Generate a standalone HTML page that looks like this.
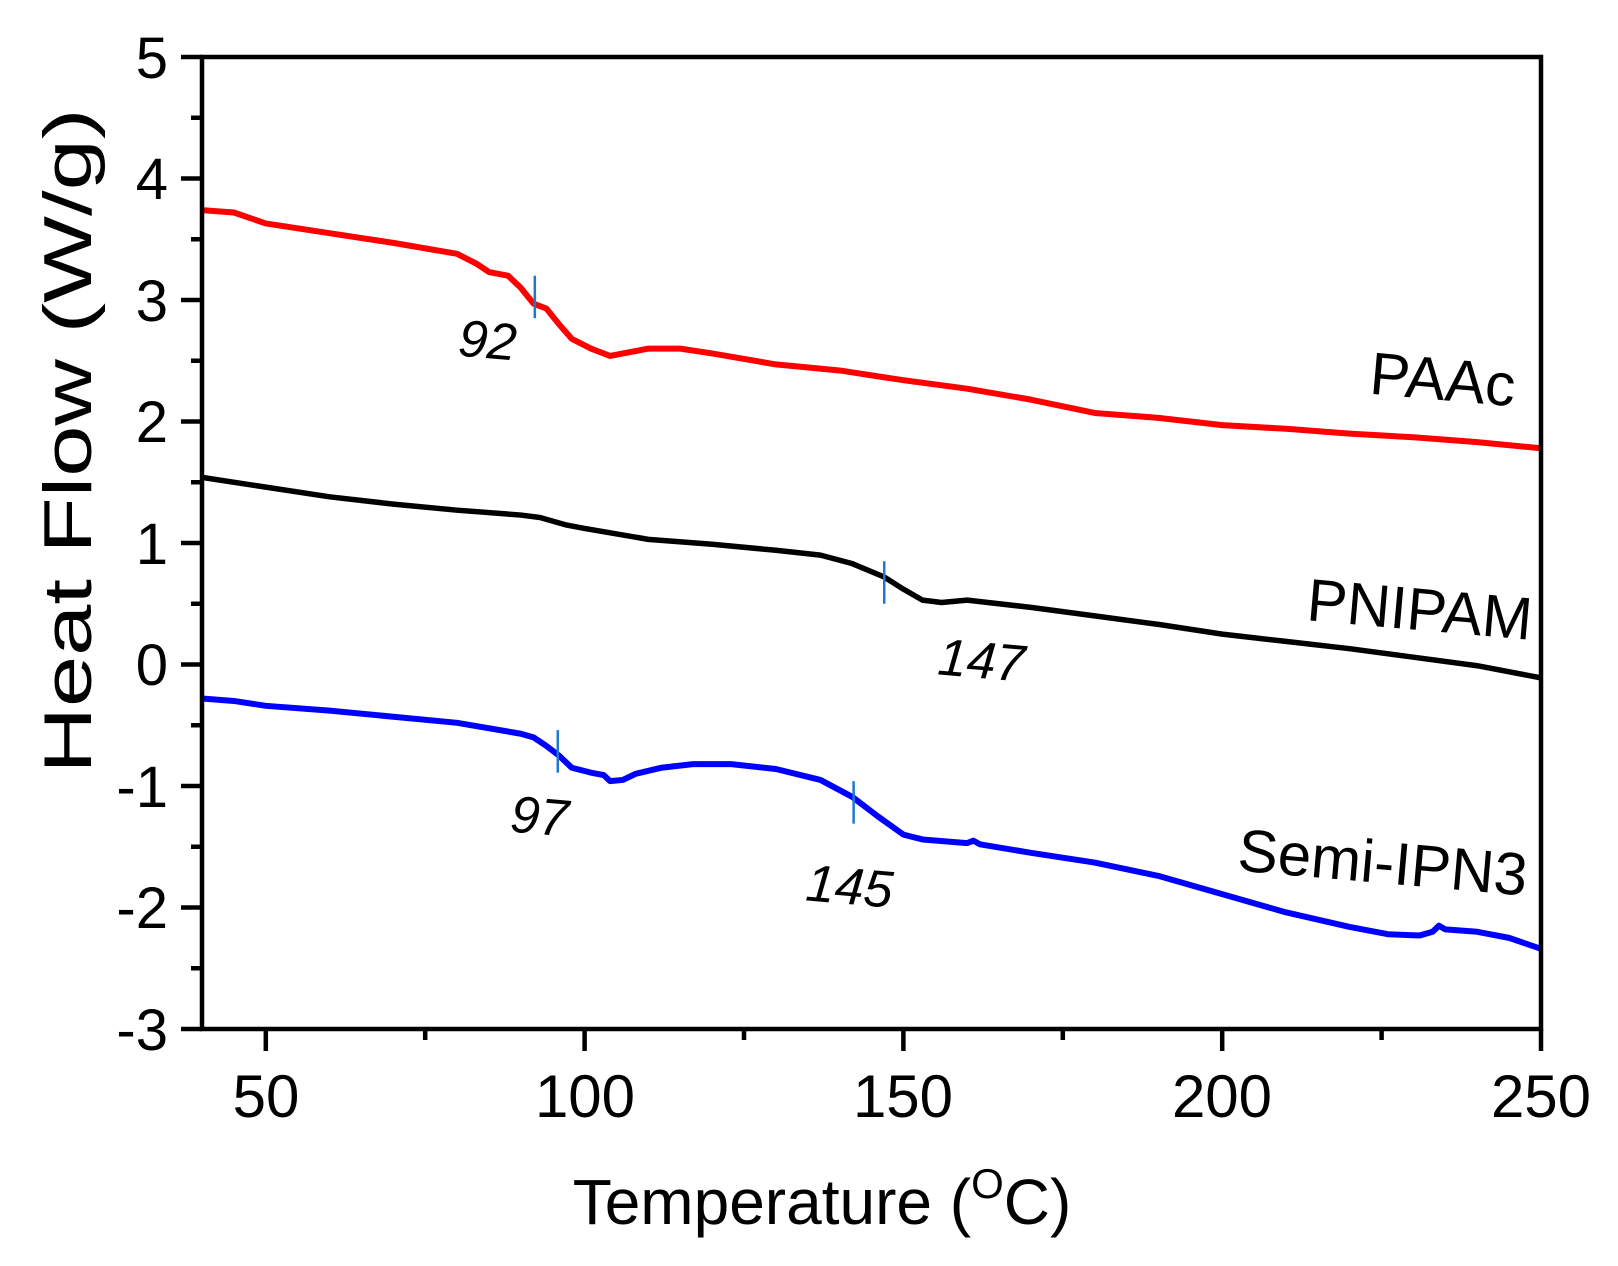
<!DOCTYPE html>
<html><head><meta charset="utf-8"><style>html,body{margin:0;padding:0;background:#fff}svg{display:block}</style></head>
<body>
<svg width="1618" height="1266" viewBox="0 0 1618 1266" xmlns="http://www.w3.org/2000/svg" font-family="Liberation Sans, Arial, sans-serif">
<rect width="1618" height="1266" fill="#fff"/>
<g transform="translate(202,57) scale(6.376,-121.5) translate(-40,-5)" fill="none" stroke-linejoin="round">
<polyline vector-effect="non-scaling-stroke" stroke="#ff0000" stroke-width="6" points="40,3.74 45,3.72 50,3.63 60,3.55 70,3.47 80,3.38 83,3.3 85,3.23 88,3.2 90,3.1 92,2.97 94,2.93 96,2.8 98,2.68 101,2.6 104,2.54 106,2.56 110,2.6 115,2.6 120,2.56 130,2.47 140,2.42 150,2.34 160,2.27 170,2.18 180,2.07 190,2.03 200,1.97 210,1.94 220,1.9 230,1.87 240,1.83 250,1.78"/>
<polyline vector-effect="non-scaling-stroke" stroke="#000" stroke-width="5.5" points="40,1.54 50,1.46 60,1.38 70,1.32 80,1.27 90,1.23 93,1.21 97,1.15 100,1.12 110,1.03 120,0.99 130,0.94 137,0.9 142,0.83 147,0.72 150,0.62 153,0.53 156,0.51 160,0.53 170,0.47 180,0.4 190,0.33 200,0.25 210,0.19 220,0.13 230,0.06 240,-0.01 250,-0.11"/>
<polyline vector-effect="non-scaling-stroke" stroke="#0000ff" stroke-width="6" points="40,-0.28 45,-0.3 50,-0.34 60,-0.38 70,-0.43 80,-0.48 90,-0.57 92,-0.6 94,-0.67 96,-0.75 98,-0.85 101,-0.89 103,-0.91 104,-0.96 106,-0.95 108,-0.9 112,-0.85 117,-0.82 123,-0.82 130,-0.86 137,-0.95 142,-1.09 146,-1.25 150,-1.4 153,-1.44 160,-1.47 161,-1.45 162,-1.48 170,-1.55 180,-1.63 190,-1.74 200,-1.89 210,-2.04 220,-2.16 226,-2.22 231,-2.23 233,-2.2 234,-2.15 235,-2.18 240,-2.2 245,-2.25 250,-2.34"/>
<g stroke="#1f77d0">
<line vector-effect="non-scaling-stroke" stroke-width="2.5" x1="92.2" y1="2.85" x2="92.2" y2="3.2"/>
<line vector-effect="non-scaling-stroke" stroke-width="2.5" x1="147" y1="0.5" x2="147" y2="0.85"/>
<line vector-effect="non-scaling-stroke" stroke-width="2.5" x1="95.8" y1="-0.54" x2="95.8" y2="-0.89"/>
<line vector-effect="non-scaling-stroke" stroke-width="2.5" x1="142.2" y1="-0.96" x2="142.2" y2="-1.31"/>
</g>
</g>
<rect x="202" y="57" width="1339" height="972" fill="none" stroke="#000" stroke-width="4.5"/>
<g stroke="#000" stroke-width="4.5">
<line x1="181" y1="57" x2="202" y2="57"/><line x1="181" y1="178.5" x2="202" y2="178.5"/><line x1="181" y1="300" x2="202" y2="300"/><line x1="181" y1="421.5" x2="202" y2="421.5"/><line x1="181" y1="543" x2="202" y2="543"/><line x1="181" y1="664.5" x2="202" y2="664.5"/><line x1="181" y1="786" x2="202" y2="786"/><line x1="181" y1="907.5" x2="202" y2="907.5"/><line x1="181" y1="1029" x2="202" y2="1029"/>
<line x1="191" y1="117.75" x2="202" y2="117.75"/><line x1="191" y1="239.25" x2="202" y2="239.25"/><line x1="191" y1="360.75" x2="202" y2="360.75"/><line x1="191" y1="482.25" x2="202" y2="482.25"/><line x1="191" y1="603.75" x2="202" y2="603.75"/><line x1="191" y1="725.25" x2="202" y2="725.25"/><line x1="191" y1="846.75" x2="202" y2="846.75"/><line x1="191" y1="968.25" x2="202" y2="968.25"/>
<line x1="265.8" y1="1029" x2="265.8" y2="1051"/><line x1="584.6" y1="1029" x2="584.6" y2="1051"/><line x1="903.4" y1="1029" x2="903.4" y2="1051"/><line x1="1222.2" y1="1029" x2="1222.2" y2="1051"/><line x1="1541" y1="1029" x2="1541" y2="1051"/>
<line x1="425.2" y1="1029" x2="425.2" y2="1040"/><line x1="744" y1="1029" x2="744" y2="1040"/><line x1="1062.8" y1="1029" x2="1062.8" y2="1040"/><line x1="1381.6" y1="1029" x2="1381.6" y2="1040"/>
</g>
<g font-size="58" fill="#000" text-anchor="end">
<text x="168" y="78">5</text><text x="168" y="199">4</text><text x="168" y="321">3</text><text x="168" y="442">2</text><text x="168" y="564">1</text><text x="168" y="685">0</text><text x="168" y="807">-1</text><text x="168" y="928">-2</text><text x="168" y="1050">-3</text>
</g>
<g font-size="60" fill="#000" text-anchor="middle">
<text x="266" y="1117">50</text><text x="585" y="1117">100</text><text x="903" y="1117">150</text><text x="1222" y="1117">200</text><text x="1541" y="1117">250</text>
</g>
<text x="822" y="1224" font-size="64" text-anchor="middle">Temperature (<tspan font-size="42" dy="-26">O</tspan><tspan dy="26">C)</tspan></text>
<text transform="translate(91,441) rotate(-90)" font-size="68" text-anchor="middle" textLength="665" lengthAdjust="spacingAndGlyphs">Heat Flow (W/g)</text>
<g font-size="52" font-style="italic" fill="#000" text-anchor="middle">
<text transform="translate(486,358) rotate(5)">92</text>
<text transform="translate(980,678) rotate(5)">147</text>
<text transform="translate(538,834) rotate(5)">97</text>
<text transform="translate(848,904) rotate(5)">145</text>
</g>
<g font-size="60" fill="#000" text-anchor="middle">
<text transform="translate(1441,400) rotate(5)">PAAc</text>
<text transform="translate(1418,630) rotate(5)">PNIPAM</text>
<text transform="translate(1381,883) rotate(5)">Semi-IPN3</text>
</g>
</svg>
</body></html>
